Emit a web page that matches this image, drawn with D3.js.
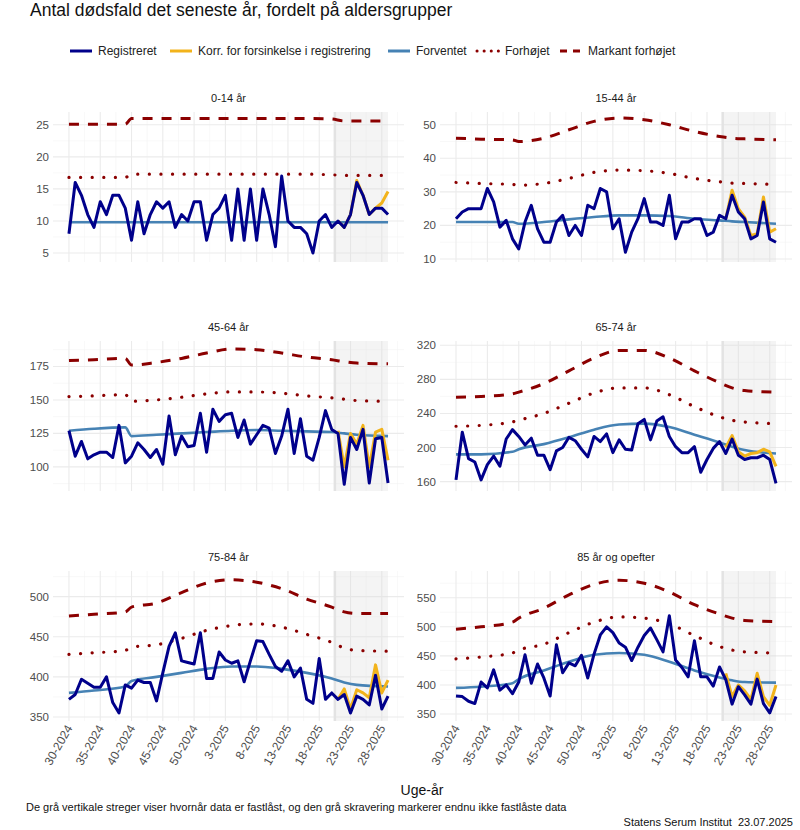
<!DOCTYPE html>
<html><head><meta charset="utf-8">
<script src="https://cdn.jsdelivr.net/npm/d3@7"></script>
<style>body{margin:0;background:#fff;font-family:"Liberation Sans",Arial,sans-serif}</style>
</head><body><div id="chart"></div>
<script>
// weeks 30-2024 .. 29-2025
const weeks = [];
for (let w = 30; w <= 52; w++) weeks.push(w + '-2024');
for (let w = 1; w <= 29; w++) weeks.push(w + '-2025');

const panelNames = ['0-14 år', '15-44 år', '45-64 år', '65-74 år', '75-84 år', '85 år og opefter'];

const registered = [
  [8,16,14,11,9,13,11,14,14,12,7,13,8,11,13,12,13,9,11,10,13,13,7,11,12,14,7,15,7,15,7,15,11,6,17,10,9,9,8,5,10,11,9,10,9,11,16,14,11,12,12,11],
  [22,24,25,25,25,31,27,19.5,21.5,16,13,21,26,19,15,15,21,23,17,20,17,26,25,31,30,19,22,12,18,22,28,21,21,20,29,16,21,21,22,22,17,18,23,22,29,24,22,16,17,27,16,15],
  [127,108,119,106,109,111,111,107,131,103,108,118,113,107,113,102,138,109,123,115,116,140,111,143,134,139,140,122,135,117,124,131,129,110,123,143,110,136,108,105,122,142,128,125,87,122,113,128,88,121,122,88],
  [162,218,187,183,162,180,190,178,210,221,213,203,211,191,191,174,196,200,212,208,198,189,213,207,216,194,209,198,197,228,233,209,231,236,213,201,194,194,201,171,186,199,207,193,210,191,186,188,188,191,186,158],
  [372,378,397,392,387,387,400,368,355,390,386,396,393,393,370,405,438,455,420,418,416,455,398,398,431,421,417,420,394,420,445,444,428,413,407,420,400,411,372,367,423,372,380,372,378,355,376,372,365,402,360,376],
  [381,380,372,368,405,395,426,391,400,385,405,452,403,436,412,381,469,421,438,433,451,412,453,486,500,490,472,465,442,465,485,498,478,457,519,443,430,414,476,414,414,398,431,409,367,397,383,367,410,368,352,380]
];

// corrected values from week index 43 onward
const correctedStart = 43;
const corrected = [
  [10,9,11,16.3,14,11,12,12.8,14.6],
  [22,30.5,25,22.5,17,17.5,28.5,18,19],
  [127,100,125,117,131,100,126,128,105],
  [200,214,195,190,193,194,198,195,178],
  [372,385,360,384,380,374,415,380,396],
  [420,380,400,390,375,420,380,365,400]
];

// baseline and thresholds sampled at these week indices
const knots = [0,4,9,10,14,18,22,26,30,34,38,42,44,46,51];
const expected = [
  [9.8,9.8,9.8,9.8,9.8,9.8,9.8,9.8,9.8,9.8,9.8,9.8,9.8,9.8,9.8],
  [21,21,21,20.5,21,21.8,22.5,23,23,22.8,22,21.5,21.2,21,20.5],
  [127,128.5,129.5,123,124,125,126,127,127.5,127,126.5,126,125,124,123],
  [192,192,195,198,204,212,221,227,228,224,215,206,201,197,193],
  [380,383,388,395,400,405,410,413,413,410,405,398,393,390,388],
  [395,397,403,410,425,440,452,455,452,440,425,413,408,405,404]
];
const elevated = [
  [16.8,16.8,16.8,17.3,17.3,17.3,17.3,17.3,17.3,17.3,17.3,17.2,17.1,17.1,17.1],
  [32.8,32.5,32.2,32,32.5,34,35.8,36.5,36.3,35.5,34,33,32.6,32.5,32.2],
  [152.5,153,154,149,150,152,154.5,156,156,155,153,151.5,150.5,149.5,149],
  [225,226,230,232,240,252,264,270,270,262,248,236,232,230,228],
  [428,430,433,437,440,448,458,464,466,462,453,443,436,433,432],
  [445,448,455,460,470,490,508,517,515,505,485,466,460,457,455]
];
const markedlyElevated = [
  [25.1,25.1,25.1,26,26,26,26,26,26,26,26,25.9,25.6,25.6,25.6],
  [46,45.7,45.5,45,46,48.5,51,52,51.5,50,48,46.5,46,45.8,45.5],
  [179.5,180,181,176,178,181,185,188,187.5,185,182,180,178.5,177.5,177],
  [259,260,263,265,275,290,305,314,314,305,290,276,270,267,265],
  [476,478,481,487,492,505,517,521,518,510,497,487,481,479,479],
  [496,500,508,515,532,555,573,580,575,560,538,522,515,511,509]
];

const yDomains = [[3.6,27],[9.1,53.8],[82,194],[149,325],[345,532],[338,596]];
const yTicks = [[5,10,15,20,25],[10,20,30,40,50],[100,125,150,175],[160,200,240,280,320],[350,400,450,500],[350,400,450,500,550]];
const tickIdx = [0,5,10,15,20,25,30,35,40,45,50];
const lockedIdx = 42.5;

const W = 800, H = 830;
const colX = [[53,404],[440,792]];
const rowY = [[112,262],[341,491],[571,721]];
const C = {reg:'#00008B', corr:'#F2B31B', exp:'#4682B4', thr:'#8B0000'};

const svg = d3.select('#chart').append('svg').attr('width', W).attr('height', H)
  .style('font-family', '"Liberation Sans",Arial,sans-serif');

svg.append('text').attr('x', 30).attr('y', 16).attr('font-size', 17.5).attr('fill', '#111')
  .text('Antal dødsfald det seneste år, fordelt på aldersgrupper');

// legend
const legend = [
  {x:70, label:'Registreret', color:C.reg, dash:null, w:3},
  {x:170, label:'Korr. for forsinkelse i registrering', color:C.corr, dash:null, w:3},
  {x:388, label:'Forventet', color:C.exp, dash:null, w:3},
  {x:477, label:'Forhøjet', color:C.thr, dash:'0.1,7', w:3},
  {x:560, label:'Markant forhøjet', color:C.thr, dash:'7,6', w:3}
];
legend.forEach(l => {
  svg.append('line').attr('x1', l.x).attr('x2', l.x + 22).attr('y1', 51).attr('y2', 51)
    .attr('stroke', l.color).attr('stroke-width', l.w).attr('stroke-dasharray', l.dash)
    .attr('stroke-linecap', l.dash && l.dash.startsWith('0.1') ? 'round' : 'butt');
  svg.append('text').attr('x', l.x + 28).attr('y', 55).attr('font-size', 12).attr('fill', '#222').text(l.label);
});

panelNames.forEach((name, p) => {
  const col = p % 2, row = Math.floor(p / 2);
  const [x0, x1] = colX[col], [y0, y1] = rowY[row];
  const x = d3.scaleLinear().domain([-2.55, 53.55]).range([x0, x1]);
  const y = d3.scaleLinear().domain(yDomains[p]).range([y1, y0]);
  const g = svg.append('g');

  // grid
  const minorX = tickIdx.map(t => t + 2.5).filter(t => t < 53);
  g.selectAll('.mx').data(minorX).enter().append('line')
    .attr('x1', d => x(d)).attr('x2', d => x(d)).attr('y1', y0).attr('y2', y1)
    .attr('stroke', '#f3f3f3').attr('stroke-width', 0.6);
  const yt = yTicks[p], step = yt[1] - yt[0];
  const minorY = [yt[0] - step / 2, ...yt.map(t => t + step / 2)].filter(t => t > yDomains[p][0] && t < yDomains[p][1]);
  g.selectAll('.my').data(minorY).enter().append('line')
    .attr('x1', x0).attr('x2', x1).attr('y1', d => y(d)).attr('y2', d => y(d))
    .attr('stroke', '#f3f3f3').attr('stroke-width', 0.6);
  g.selectAll('.gx').data(tickIdx).enter().append('line')
    .attr('x1', d => x(d)).attr('x2', d => x(d)).attr('y1', y0).attr('y2', y1)
    .attr('stroke', '#ebebeb').attr('stroke-width', 1.1);
  g.selectAll('.gy').data(yt).enter().append('line')
    .attr('x1', x0).attr('x2', x1).attr('y1', d => y(d)).attr('y2', d => y(d))
    .attr('stroke', '#ebebeb').attr('stroke-width', 1.1);

  // shade of not-locked data
  g.append('rect').attr('x', x(lockedIdx)).attr('y', y0).attr('width', x(51) - x(lockedIdx)).attr('height', y1 - y0)
    .attr('fill', '#d9d9d9').attr('opacity', 0.3);
  g.append('line').attr('x1', x(lockedIdx)).attr('x2', x(lockedIdx)).attr('y1', y0).attr('y2', y1)
    .attr('stroke', '#e3e3e3').attr('stroke-width', 2.5);

  // y labels
  g.selectAll('.yl').data(yt).enter().append('text')
    .attr('x', x0 - 4).attr('y', d => y(d) + 4).attr('text-anchor', 'end')
    .attr('font-size', 11.5).attr('fill', '#4d4d4d').text(d => d);

  // strip title
  svg.append('text').attr('x', (x0 + x1) / 2).attr('y', y0 - 10).attr('text-anchor', 'middle')
    .attr('font-size', 11).attr('fill', '#1a1a1a').text(name);

  const smooth = d3.line().x(d => x(d[0])).y(d => y(d[1])).curve(d3.curveMonotoneX);
  const straight = d3.line().x(d => x(d[0])).y(d => y(d[1]));
  const kp = arr => knots.map((k, i) => [k, arr[i]]);

  g.append('path').attr('d', smooth(kp(markedlyElevated[p]))).attr('fill', 'none')
    .attr('stroke', C.thr).attr('stroke-width', 3).attr('stroke-dasharray', '10,9');
  g.append('path').attr('d', smooth(kp(elevated[p]))).attr('fill', 'none')
    .attr('stroke', C.thr).attr('stroke-width', 3.2).attr('stroke-dasharray', '0.1,11.5').attr('stroke-linecap', 'round');
  g.append('path').attr('d', smooth(kp(expected[p]))).attr('fill', 'none')
    .attr('stroke', C.exp).attr('stroke-width', 2.6);
  g.append('path').attr('d', straight(corrected[p].map((v, i) => [correctedStart + i, v]))).attr('fill', 'none')
    .attr('stroke', C.corr).attr('stroke-width', 3).attr('stroke-linejoin', 'round');
  g.append('path').attr('d', straight(registered[p].map((v, i) => [i, v]))).attr('fill', 'none')
    .attr('stroke', C.reg).attr('stroke-width', 3).attr('stroke-linejoin', 'round');

  if (row === 2) {
    g.selectAll('.xl').data(tickIdx).enter().append('text')
      .attr('transform', d => `translate(${x(d) + 4},${y1 + 7}) rotate(-60)`)
      .attr('text-anchor', 'end').attr('font-size', 12).attr('fill', '#4d4d4d')
      .text(d => weeks[d]);
  }
});

svg.append('text').attr('x', 422).attr('y', 795).attr('text-anchor', 'middle').attr('font-size', 14).attr('fill', '#111').text('Uge-år');
svg.append('text').attr('x', 26).attr('y', 811).attr('font-size', 11).attr('fill', '#111')
  .text('De grå vertikale streger viser hvornår data er fastlåst, og den grå skravering markerer endnu ikke fastlåste data');
svg.append('text').attr('x', 793).attr('y', 826).attr('text-anchor', 'end').attr('font-size', 11).attr('fill', '#111')
  .style('white-space', 'pre').text('Statens Serum Institut  23.07.2025');
</script></body></html>
